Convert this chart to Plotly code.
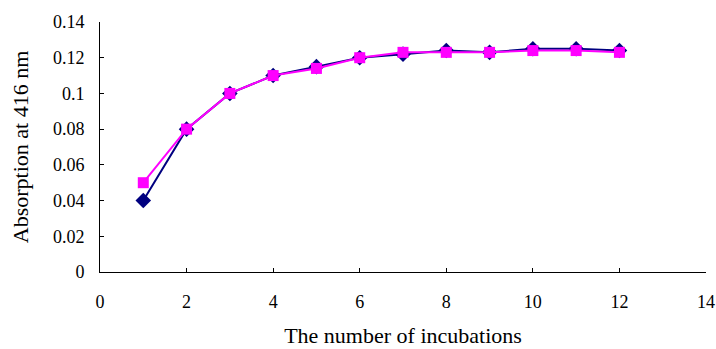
import plotly.graph_objects as go

incubations = [1, 2, 3, 4, 5, 6, 7, 8, 9, 10, 11, 12]
series_a = [0.040, 0.080, 0.100, 0.110, 0.115, 0.120, 0.122, 0.124, 0.123, 0.125, 0.125, 0.124]
series_b = [0.050, 0.080, 0.100, 0.110, 0.114, 0.120, 0.123, 0.123, 0.123, 0.124, 0.124, 0.123]

fig = go.Figure()
fig.add_trace(go.Scatter(x=incubations, y=series_a, mode="lines+markers",
                         line=dict(color="#000080", width=2),
                         marker=dict(symbol="diamond", size=12, color="#000080")))
fig.add_trace(go.Scatter(x=incubations, y=series_b, mode="lines+markers",
                         line=dict(color="#FF00FF", width=2),
                         marker=dict(symbol="square", size=11, color="#FF00FF")))

font = dict(family="Liberation Serif, Times New Roman, serif", size=18, color="black")
fig.update_layout(
    width=716, height=349, margin=dict(l=100, r=10, t=22, b=77),
    plot_bgcolor="white", paper_bgcolor="white", showlegend=False, font=font,
    xaxis=dict(range=[0, 14], tickvals=list(range(0, 15, 2)), showline=True, linecolor="black",
               linewidth=1, ticks="inside", ticklen=4, tickcolor="black", showgrid=False,
               zeroline=False, ticklabelstandoff=13, ticklabeloverflow="allow", automargin=False,
               title=dict(text="The number of incubations", standoff=17)),
    yaxis=dict(range=[0, 0.14], tickvals=[0, 0.02, 0.04, 0.06, 0.08, 0.1, 0.12, 0.14],
               ticktext=["0", "0.02", "0.04", "0.06", "0.08", "0.1", "0.12", "0.14"],
               showline=True, linecolor="black", linewidth=1, ticks="inside", ticklen=4,
               tickcolor="black", showgrid=False, zeroline=False, ticklabelstandoff=11,
               automargin=False,
               title=dict(text="Absorption at 416 nm", standoff=18)),
)
fig.write_html("out.html")
